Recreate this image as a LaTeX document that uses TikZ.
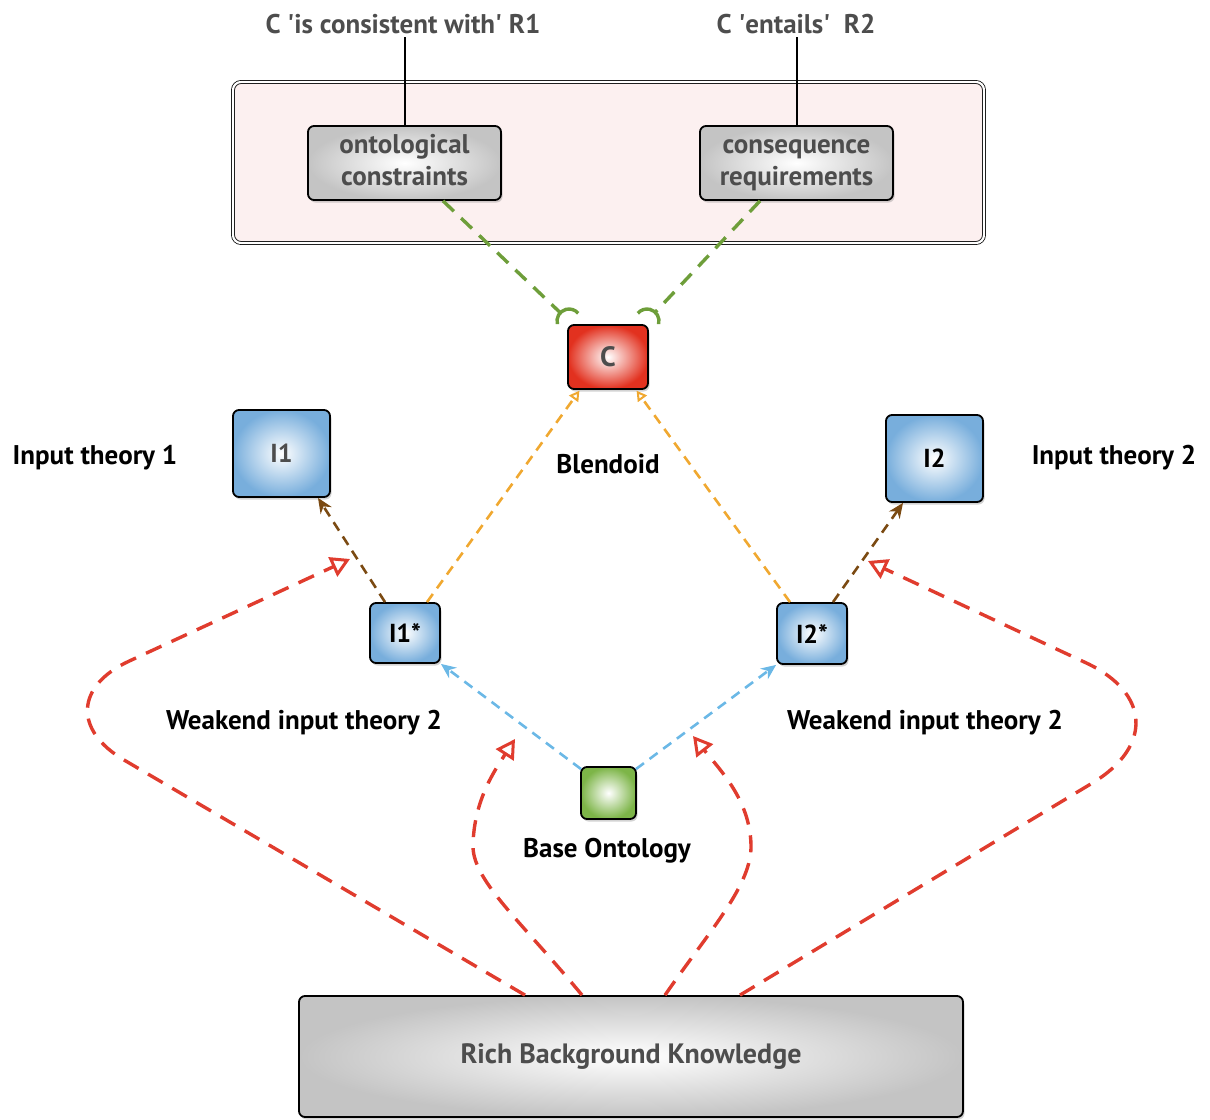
\documentclass[tikz,border=0pt]{standalone}
\usepackage{fontspec}
\setmainfont{PT Sans}
\usetikzlibrary{arrows.meta,shadows,calc}
\definecolor{txtgray}{HTML}{4D4D4D}
\definecolor{pinkfill}{HTML}{FCF0F0}
\definecolor{grayout}{HTML}{C4C4C4}
\definecolor{redout}{HTML}{E2311F}
\definecolor{blueout}{HTML}{78AEDC}
\definecolor{greenout}{HTML}{7DB548}
\definecolor{sockgreen}{HTML}{6E9E3A}
\definecolor{orangeln}{HTML}{F0A830}
\definecolor{brownln}{HTML}{7B4A12}
\definecolor{blueln}{HTML}{6BB8E6}
\definecolor{redln}{HTML}{E03C2E}
\begin{document}
\begin{tikzpicture}[x=1pt,y=-1pt,
  box/.style={draw=black, line width=1.8pt, rounded corners=6pt, align=center, inner sep=0pt,
    font=\bfseries\fontsize{26}{32}\selectfont,
    drop shadow={shadow xshift=1.5pt,shadow yshift=-2.5pt,opacity=0.35}},
  graybox/.style={box, inner color=white, outer color=grayout, text=txtgray},
  redbox/.style={box, inner color=white, outer color=redout, text=txtgray},
  bluebox/.style={box, inner color=white, outer color=blueout},
  greenbox/.style={box, inner color=white, outer color=greenout},
  lbl/.style={font=\bfseries\fontsize{27}{32}\selectfont, text=black},
  toplbl/.style={font=\bfseries\fontsize{27}{32}\selectfont, text=txtgray},
  redarr/.style={draw=redln, line width=3.4pt, dash pattern=on 17pt off 11pt,
    -{Triangle[open, length=19pt, width=21pt, line width=3pt]}},
  orarr/.style={draw=orangeln, line width=2.6pt, dash pattern=on 10pt off 7pt,
    -{Triangle[open, length=10pt, width=11pt, line width=2pt]}},
  brarr/.style={draw=brownln, line width=2.6pt, dash pattern=on 10pt off 7pt,
    -{Stealth[length=15pt, width=13pt]}},
  blarr/.style={draw=blueln, line width=2.6pt, dash pattern=on 10pt off 7pt,
    -{Stealth[length=15pt, width=13pt]}},
  greenln/.style={draw=sockgreen, line width=3.4pt, dash pattern=on 15pt off 10pt},
  sockarc/.style={draw=sockgreen, line width=3.4pt},
]
\useasboundingbox (0,0) rectangle (1210,1119);

% group box
\node[draw=black, line width=0.8pt, double=white, double distance=2.2pt, fill=pinkfill,
  rounded corners=8pt, minimum width=751pt, minimum height=161pt, inner sep=0pt]
  (grp) at (608.5,162.5) {};

% top labels
\node[toplbl] (lab1) at (403,24) {C \textquotesingle is consistent with\textquotesingle\ R1};
\node[toplbl] (lab2) at (796,24) {C \textquotesingle entails\textquotesingle\ \ R2};

% boxes
\node[graybox, minimum width=193pt, minimum height=74pt, font=\bfseries\fontsize{27}{32}\selectfont] (oc) at (404.5,163) {\strut ontological\\\strut constraints};
\node[graybox, minimum width=193pt, minimum height=74pt, font=\bfseries\fontsize{27}{32}\selectfont] (cr) at (796.5,163) {\strut consequence\\\strut requirements};
\node[redbox, minimum width=80pt, minimum height=64pt, font=\bfseries\fontsize{28}{32}\selectfont] (C) at (608,357) {C};
\node[bluebox, minimum width=97pt, minimum height=87pt, text=txtgray] (I1) at (281.5,453.5) {I1};
\node[bluebox, minimum width=97pt, minimum height=87pt, text=black] (I2) at (934.5,458.5) {I2};
\node[bluebox, minimum width=70pt, minimum height=60pt, text=black] (I1s) at (405,633) {I1*};
\node[bluebox, minimum width=70pt, minimum height=61pt, text=black] (I2s) at (812,633.5) {I2*};
\node[greenbox, minimum width=55pt, minimum height=52pt] (BO) at (608.5,793) {};
\node[graybox, minimum width=664pt, minimum height=121pt, font=\bfseries\fontsize{28}{32}\selectfont] (rich) at (631,1056.5) {Rich Background Knowledge};

% labels
\node[lbl] (lit1) at (95,458) {Input theory 1};
\node[lbl] (lit2) at (1114,458) {Input theory 2};
\node[lbl] (lbl) at (608,464) {Blendoid};
\node[lbl] (lw1) at (304,723) {Weakend input theory 2};
\node[lbl] (lw2) at (925,723) {Weakend input theory 2};
\node[lbl] (lbo) at (607,851) {Base Ontology};

% top connectors
\draw[line width=2pt] (oc.north) -- (oc.north |- lab1.south);
\draw[line width=2pt] (cr.north) -- (cr.north |- lab2.south);

% sockets
\coordinate (sL) at (569,321);
\coordinate (sR) at (647,321);
\draw[greenln, shorten >=13pt] ($(oc.south)+(38.5,0)$) -- (sL);
\draw[greenln, shorten >=13pt] ($(cr.south)+(-36.5,0)$) -- (sR);
\draw[sockarc] ($(sL)+(195:12pt)$) arc[start angle=195, end angle=40, radius=12pt];
\draw[sockarc] ($(sR)+(-15:12pt)$) arc[start angle=-15, end angle=140, radius=12pt];

% orange
\draw[orarr, shorten >=1pt] ($(I1s.north)+(22,0)$) -- ($(C.south)+(-28,0)$);
\draw[orarr, shorten >=1pt] ($(I2s.north)+(-22,0)$) -- ($(C.south)+(28,0)$);

% brown
\draw[brarr] ($(I1s.north)+(-20,0)$) -- ($(I1.south)+(36.5,0)$);
\draw[brarr] ($(I2s.north)+(21,0)$) -- ($(I2.south)+(-31.5,0)$);

% blue
\draw[blarr] ($(BO.north west)+(1,3)$) -- (I1s.south east);
\draw[blarr] ($(BO.north east)+(-1,3)$) -- (I2s.south west);

% red
\coordinate (t1) at (350,559);
\coordinate (t2) at (515,739);
\coordinate (t3) at (693,736);
\coordinate (t4) at (868,561);
\draw[redarr, rounded corners=107pt] ($(rich.north)+(-106,0)$) -- (32,706) -- (t1);
\draw[redarr, rounded corners=128pt] ($(rich.north)+(109,0)$) -- (1202,717) -- (t4);
\draw[redarr] ($(rich.north)+(-49,0)$) .. controls (520,920) and (472,880) .. (473,845)
   .. controls (474,800) and (495,770) .. (t2);
\draw[redarr] ($(rich.north)+(34,0)$) .. controls (710,930) and (752,885) .. (751,845)
   .. controls (750,800) and (720,770) .. (t3);
\end{tikzpicture}
\end{document}
